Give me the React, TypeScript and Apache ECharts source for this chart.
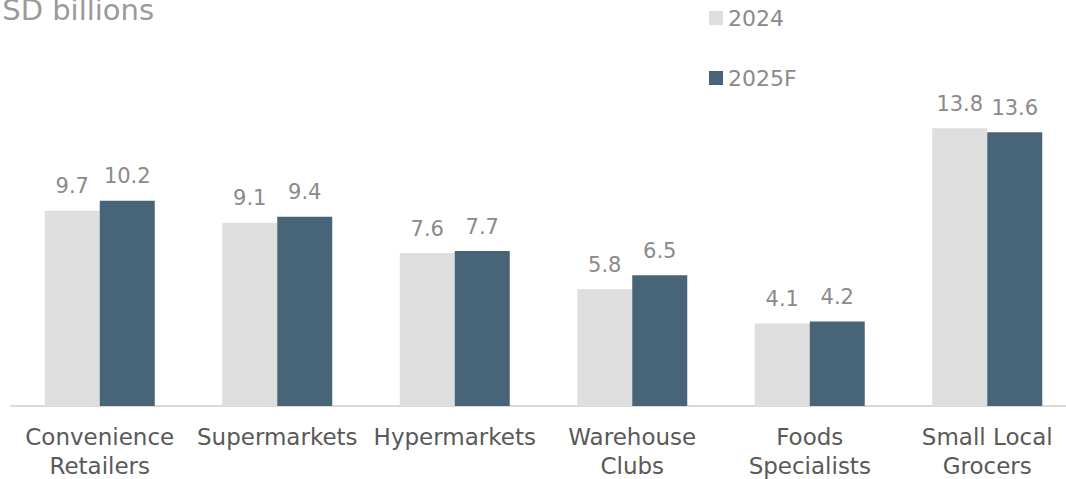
import React, { useEffect, useRef } from "react";
import * as echarts from "echarts";

const categories = [
  "Convenience\nRetailers",
  "Supermarkets",
  "Hypermarkets",
  "Warehouse\nClubs",
  "Foods\nSpecialists",
  "Small Local\nGrocers",
];
const values2024 = [9.7, 9.1, 7.6, 5.8, 4.1, 13.8];
const values2025 = [10.2, 9.4, 7.7, 6.5, 4.2, 13.6];
const seriesNames = ["2024", "2025F"];
const unitTitle = "USD billions";

const FONT = "'DejaVu Sans', sans-serif";

export default function App() {
  const ref = useRef<HTMLDivElement>(null);
  useEffect(() => {
    if (!ref.current) return;
    const chart = echarts.init(ref.current, undefined, { renderer: "svg" });
    const label = {
      show: true,
      position: "top",
      distance: 14,
      color: "#8a8a8a",
      fontSize: 21,
      fontFamily: FONT,
    };
    chart.setOption({
      animation: false,
      textStyle: { fontFamily: FONT },
      graphic: [
        {
          type: "text",
          left: -19,
          top: -5,
          style: { text: unitTitle, fontSize: 29, fill: "#9a9a9a", fontFamily: FONT },
        },
      ],
      legend: {
        orient: "vertical",
        left: 704,
        top: 2,
        itemWidth: 14,
        itemHeight: 14,
        itemGap: 38,
        icon: "rect",
        textStyle: { fontSize: 22, color: "#8a8a8a", fontFamily: FONT },
        data: seriesNames,
      },
      grid: { left: 11, top: 84, width: 1065, height: 322, outerBoundsMode: "none", containLabel: false },
      xAxis: {
        type: "category",
        data: categories,
        axisLine: { lineStyle: { color: "#d9d9d9", width: 2 } },
        axisTick: { show: false },
        axisLabel: {
          interval: 0,
          color: "#595959",
          fontSize: 23,
          lineHeight: 29,
          margin: 16,
          fontFamily: FONT,
        },
      },
      yAxis: { type: "value", min: 0, max: 16, show: false, splitLine: { show: false } },
      series: [
        {
          name: seriesNames[0],
          type: "bar",
          data: values2024,
          itemStyle: { color: "#dedede" },
          barWidth: 55,
          barGap: "0%",
          label,
        },
        {
          name: seriesNames[1],
          type: "bar",
          data: values2025,
          itemStyle: { color: "#476479" },
          barWidth: 55,
          barGap: "0%",
          label,
        },
      ],
    });
    return () => chart.dispose();
  }, []);
  return (
    <div
      ref={ref}
      style={{ position: "fixed", left: 0, top: 0, width: 1066, height: 479, background: "#fff" }}
    />
  );
}
